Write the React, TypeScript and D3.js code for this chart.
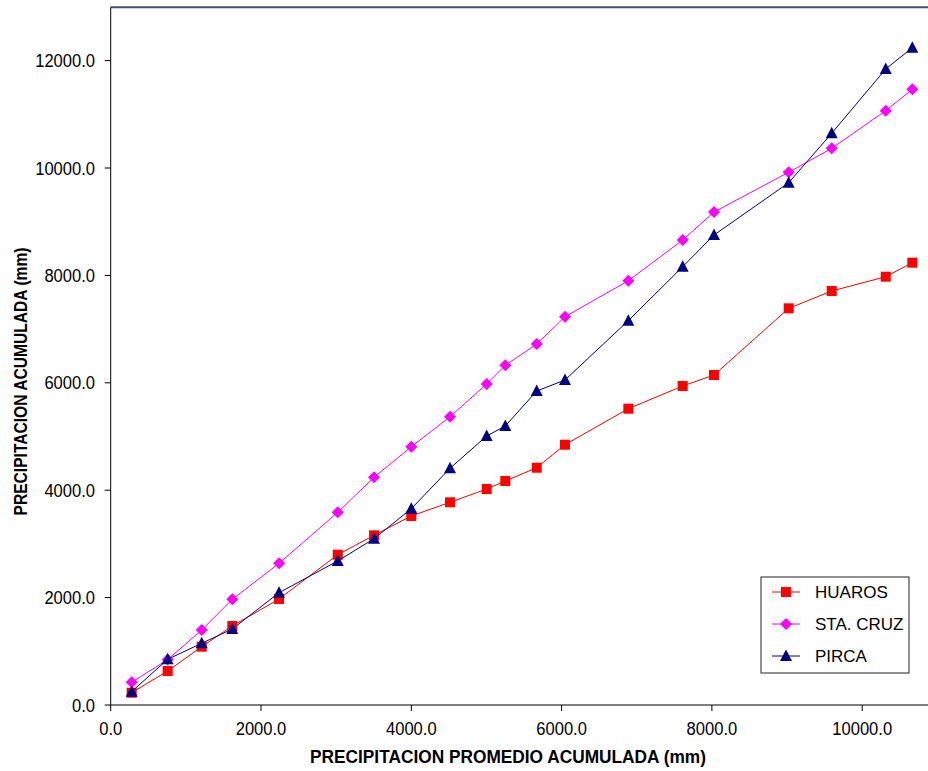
import React from "react";
import * as d3 from "d3";

const xValues = [279, 758, 1211, 1618, 2240, 3021, 3504, 4000, 4515, 5003, 5251, 5669, 6045, 6888, 7611, 8028, 9022, 9594, 10313, 10667];
const huaros = [229, 633, 1086, 1471, 1974, 2799, 3160, 3520, 3775, 4022, 4171, 4419, 4847, 5518, 5940, 6145, 7387, 7709, 7976, 8237];
const staCruz = [423, 845, 1397, 1968, 2639, 3588, 4240, 4810, 5369, 5978, 6326, 6723, 7231, 7901, 8659, 9181, 9920, 10367, 11067, 11466];
const pirca = [248, 851, 1149, 1415, 2091, 2682, 3097, 3655, 4408, 5009, 5196, 5847, 6052, 7157, 8162, 8752, 9726, 10646, 11844, 12240];
const seriesNames = ["HUAROS", "STA. CRUZ", "PIRCA"];
const xTicks = [0, 2000, 4000, 6000, 8000, 10000];
const yTicks = [0, 2000, 4000, 6000, 8000, 10000, 12000];
const xTitle = "PRECIPITACION PROMEDIO ACUMULADA (mm)";
const yTitle = "PRECIPITACION ACUMULADA (mm)";

const W = 928;
const H = 771;
const left = 110.7;
const top = 7.3;
const bottom = 705;

const x = d3.scaleLinear().domain([0, 10000]).range([left, left + 10000 * 0.07515]);
const y = d3.scaleLinear().domain([0, 12000]).range([bottom, bottom - 12000 * 0.0537]);

const series = [
  { name: seriesNames[0], values: huaros, color: "#ff0000", marker: "square" },
  { name: seriesNames[1], values: staCruz, color: "#ff00ff", marker: "diamond" },
  { name: seriesNames[2], values: pirca, color: "#000080", marker: "triangle" },
];

function Marker({ type, cx, cy, color }: { type: string; cx: number; cy: number; color: string }) {
  if (type === "square") {
    return <rect x={cx - 5} y={cy - 5} width={10} height={10} fill={color} />;
  }
  if (type === "diamond") {
    return <path d={`M${cx},${cy - 6}L${cx + 6},${cy}L${cx},${cy + 6}L${cx - 6},${cy}Z`} fill={color} />;
  }
  return <path d={`M${cx},${cy - 6.5}L${cx + 6},${cy + 5}L${cx - 6},${cy + 5}Z`} fill={color} />;
}

const labelW = (s: string) => {
  let w = 0;
  for (const c of s) w += c === "." ? 4.6 : 9.2;
  return w;
};

export default function App() {
  const line = d3
    .line<[number, number]>()
    .x((d) => x(d[0]))
    .y((d) => y(d[1]));
  const tickFont = "'Liberation Sans Narrow', 'Arial Narrow', 'Liberation Sans', Arial, sans-serif";
  return (
    <svg width={W} height={H} style={{ position: "absolute", left: 0, top: 0, background: "#fff" }} fontFamily="'Liberation Sans', Arial, sans-serif">
      <rect x={0} y={0} width={W} height={H} fill="#fff" />
      {/* top border */}
      <line x1={left} x2={W} y1={top} y2={top} stroke="#4b4b7d" strokeWidth={2} />
      {/* axes */}
      <line x1={left} x2={left} y1={top} y2={bottom} stroke="#000" strokeWidth={1} />
      <line x1={left} x2={W} y1={bottom} y2={bottom} stroke="#000" strokeWidth={1} />
      {yTicks.map((t) => (
        <g key={"y" + t}>
          <line x1={left - 6} x2={left} y1={y(t)} y2={y(t)} stroke="#000" />
          <text
            x={95}
            y={y(t) + 6.5}
            textAnchor="end"
            fontSize={18}
            fontFamily={tickFont}
            textLength={labelW(t.toFixed(1))}
            lengthAdjust="spacingAndGlyphs"
            fill="#000"
          >
            {t.toFixed(1)}
          </text>
        </g>
      ))}
      {xTicks.map((t) => (
        <g key={"x" + t}>
          <line x1={x(t)} x2={x(t)} y1={bottom} y2={bottom + 6} stroke="#000" />
          <text
            x={x(t)}
            y={735}
            textAnchor="middle"
            fontSize={18}
            fontFamily={tickFont}
            textLength={labelW(t.toFixed(1))}
            lengthAdjust="spacingAndGlyphs"
            fill="#000"
          >
            {t.toFixed(1)}
          </text>
        </g>
      ))}
      <text
        x={508}
        y={763}
        textAnchor="middle"
        fontSize={18}
        fontWeight="bold"
        fontFamily={tickFont}
        textLength={396}
        lengthAdjust="spacingAndGlyphs"
      >
        {xTitle}
      </text>
      <text
        transform={`translate(26.5,381.5) rotate(-90)`}
        textAnchor="middle"
        fontSize={18}
        fontWeight="bold"
        fontFamily={tickFont}
        textLength={268}
        lengthAdjust="spacingAndGlyphs"
      >
        {yTitle}
      </text>
      {/* series */}
      {series.map((s) => {
        const pts = xValues.map((v, i) => [v, s.values[i]] as [number, number]);
        return (
          <g key={s.name}>
            <path d={line(pts) || ""} fill="none" stroke={s.color} strokeWidth={1} />
            {pts.map((p, i) => (
              <Marker key={i} type={s.marker} cx={x(p[0])} cy={y(p[1])} color={s.color} />
            ))}
          </g>
        );
      })}
      {/* legend */}
      <rect x={761} y={577} width={148} height={96} fill="#fff" stroke="#222" strokeWidth={1} />
      {series.map((s, i) => {
        const ly = 592 + i * 32;
        return (
          <g key={"leg" + s.name}>
            <line x1={772} x2={800} y1={ly} y2={ly} stroke={s.color} strokeWidth={1} />
            <Marker type={s.marker} cx={786} cy={ly} color={s.color} />
            <text x={815} y={ly + 6} fontSize={17} fill="#000">
              {s.name}
            </text>
          </g>
        );
      })}
    </svg>
  );
}
